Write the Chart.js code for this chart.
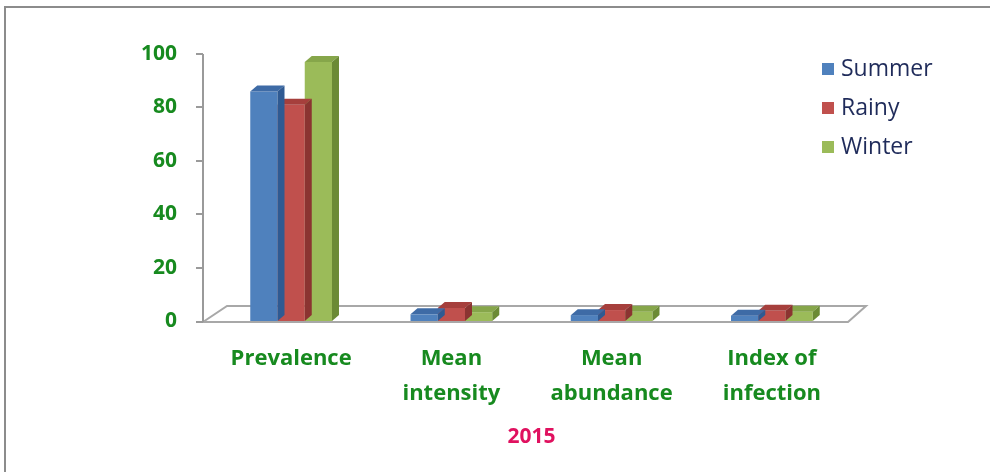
<!DOCTYPE html>
<html>
<head>
<meta charset="utf-8">
<script src="https://cdn.jsdelivr.net/npm/chart.js@4/dist/chart.umd.min.js"></script>
<style>
  html, body { margin: 0; padding: 0; background: #ffffff; }
  #wrap { width: 990px; height: 472px; position: relative; }
</style>
</head>
<body>
<div id="wrap"><canvas id="c" width="990" height="472"></canvas></div>
<script>
// Parasite infection indices per season, 2015
const categories = [
  'Prevalence',
  ['Mean', 'intensity'],
  ['Mean', 'abundance'],
  ['Index of', 'infection']
];
const seasons = ['Summer', 'Rainy', 'Winter'];
const summer = [86, 2.5, 2.2, 2.0];
const rainy  = [81, 4.9, 4.1, 3.8];
const winter = [97, 3.3, 3.5, 3.5];
const yTicks = [0, 20, 40, 60, 80, 100];
const yearTitle = '2015';

// front / top / side shades for the pseudo-3D columns
const frontColors = ['#4f81bd', '#c0504d', '#9bbb59'];
const topColors   = ['#3e6ba6', '#a63f3c', '#86a64a'];
const sideColors  = ['#2f5a92', '#8b3431', '#6b8a35'];

const labelGreen = '#178a1f';
const axisGray = '#9a9a9a';
const DX = 7, DY = 6;   // column depth offset

const frame = {
  id: 'frame',
  beforeDraw(chart) {
    const ctx = chart.ctx;
    ctx.save();
    ctx.fillStyle = '#ffffff';
    ctx.fillRect(0, 0, chart.width, chart.height);
    ctx.strokeStyle = '#8c8c8c';
    ctx.lineWidth = 2;
    ctx.beginPath();
    ctx.moveTo(5, chart.height);
    ctx.lineTo(5, 7);
    ctx.lineTo(chart.width, 7);
    ctx.stroke();
    ctx.restore();
  }
};

// floor plane and value axis
const floorAndAxis = {
  id: 'floorAndAxis',
  beforeDatasetsDraw(chart) {
    const { ctx, chartArea: a, scales } = chart;
    const y = scales.y;
    const b = a.bottom;
    ctx.save();
    ctx.strokeStyle = '#a8a8a8';
    ctx.lineWidth = 2;
    ctx.fillStyle = '#ffffff';
    ctx.beginPath();
    ctx.moveTo(a.left - 8, b + 1);
    ctx.lineTo(a.left + 16, b - 15);
    ctx.lineTo(a.right + 14, b - 15);
    ctx.lineTo(a.right - 4, b + 1);
    ctx.closePath();
    ctx.fill();
    ctx.stroke();

    // axis line with outward tick marks
    const ax = a.left - 8;
    ctx.strokeStyle = axisGray;
    ctx.lineWidth = 2;
    ctx.beginPath();
    ctx.moveTo(ax, y.getPixelForValue(yTicks[yTicks.length - 1]));
    ctx.lineTo(ax, b + 1);
    yTicks.forEach(v => {
      const py = Math.round(y.getPixelForValue(v)) + (v === 0 ? 1 : 0);
      ctx.moveTo(ax - 7, py);
      ctx.lineTo(ax, py);
    });
    ctx.stroke();
    ctx.restore();
  },
  afterDatasetDraw(chart, args) {
    const ctx = chart.ctx;
    const i = args.index;
    ctx.save();
    args.meta.data.forEach(bar => {
      const p = bar.getProps(['x', 'y', 'base', 'width'], true);
      const l = p.x - p.width / 2, r = p.x + p.width / 2;
      const t = Math.min(p.y, p.base), btm = Math.max(p.y, p.base);
      // top face
      ctx.fillStyle = topColors[i];
      ctx.beginPath();
      ctx.moveTo(l, t);
      ctx.lineTo(l + DX, t - DY);
      ctx.lineTo(r + DX, t - DY);
      ctx.lineTo(r, t);
      ctx.closePath();
      ctx.fill();
      // side face
      ctx.fillStyle = sideColors[i];
      ctx.beginPath();
      ctx.moveTo(r, t);
      ctx.lineTo(r + DX, t - DY);
      ctx.lineTo(r + DX, btm - DY);
      ctx.lineTo(r, btm);
      ctx.closePath();
      ctx.fill();
    });
    ctx.restore();
  }
};

const legendBox = {
  id: 'legendBox',
  afterDraw(chart) {
    const ctx = chart.ctx;
    ctx.save();
    ctx.font = '23px "Open Sans"';
    ctx.textBaseline = 'middle';
    ctx.textAlign = 'left';
    chart.data.datasets.forEach((ds, i) => {
      const cy = 69 + i * 39;
      ctx.fillStyle = ds.backgroundColor;
      ctx.fillRect(822, cy - 6, 12, 12);
      ctx.fillStyle = '#1f2b5a';
      ctx.fillText(ds.label, 841, cy);
    });
    ctx.restore();
  }
};

const seriesData = [summer, rainy, winter];

new Chart(document.getElementById('c'), {
  type: 'bar',
  data: {
    labels: categories,
    datasets: seasons.map((s, i) => ({
      label: s,
      data: seriesData[i],
      backgroundColor: frontColors[i],
      borderWidth: 0,
      categoryPercentage: 0.51,
      barPercentage: 1.0
    }))
  },
  options: {
    responsive: false,
    animation: false,
    devicePixelRatio: 1,
    layout: { padding: { left: 0, right: 138, top: 54, bottom: 0 } },
    plugins: {
      legend: { display: false },
      tooltip: { enabled: false },
      title: { display: false }
    },
    scales: {
      x: {
        grid: { display: false, drawTicks: false },
        border: { display: false },
        ticks: {
          color: labelGreen,
          font: { family: 'Open Sans', weight: 'bold', size: 22, lineHeight: 35 / 22 },
          padding: 20,
          maxRotation: 0,
          autoSkip: false
        },
        title: {
          display: true,
          text: yearTitle,
          color: '#e0115f',
          font: { family: 'Open Sans', weight: 'bold', size: 21 },
          padding: { top: 0, bottom: 22 }
        },
        afterFit(s) { s.height = 151; }
      },
      y: {
        min: 0,
        max: 100,
        grid: { display: false, drawTicks: false },
        border: { display: false },
        ticks: {
          stepSize: 20,
          color: labelGreen,
          font: { family: 'Open Sans', weight: 'bold', size: 21 },
          padding: 34
        },
        afterFit(s) { s.width = 211; }
      }
    }
  },
  plugins: [frame, floorAndAxis, legendBox]
});
</script>
</body>
</html>
